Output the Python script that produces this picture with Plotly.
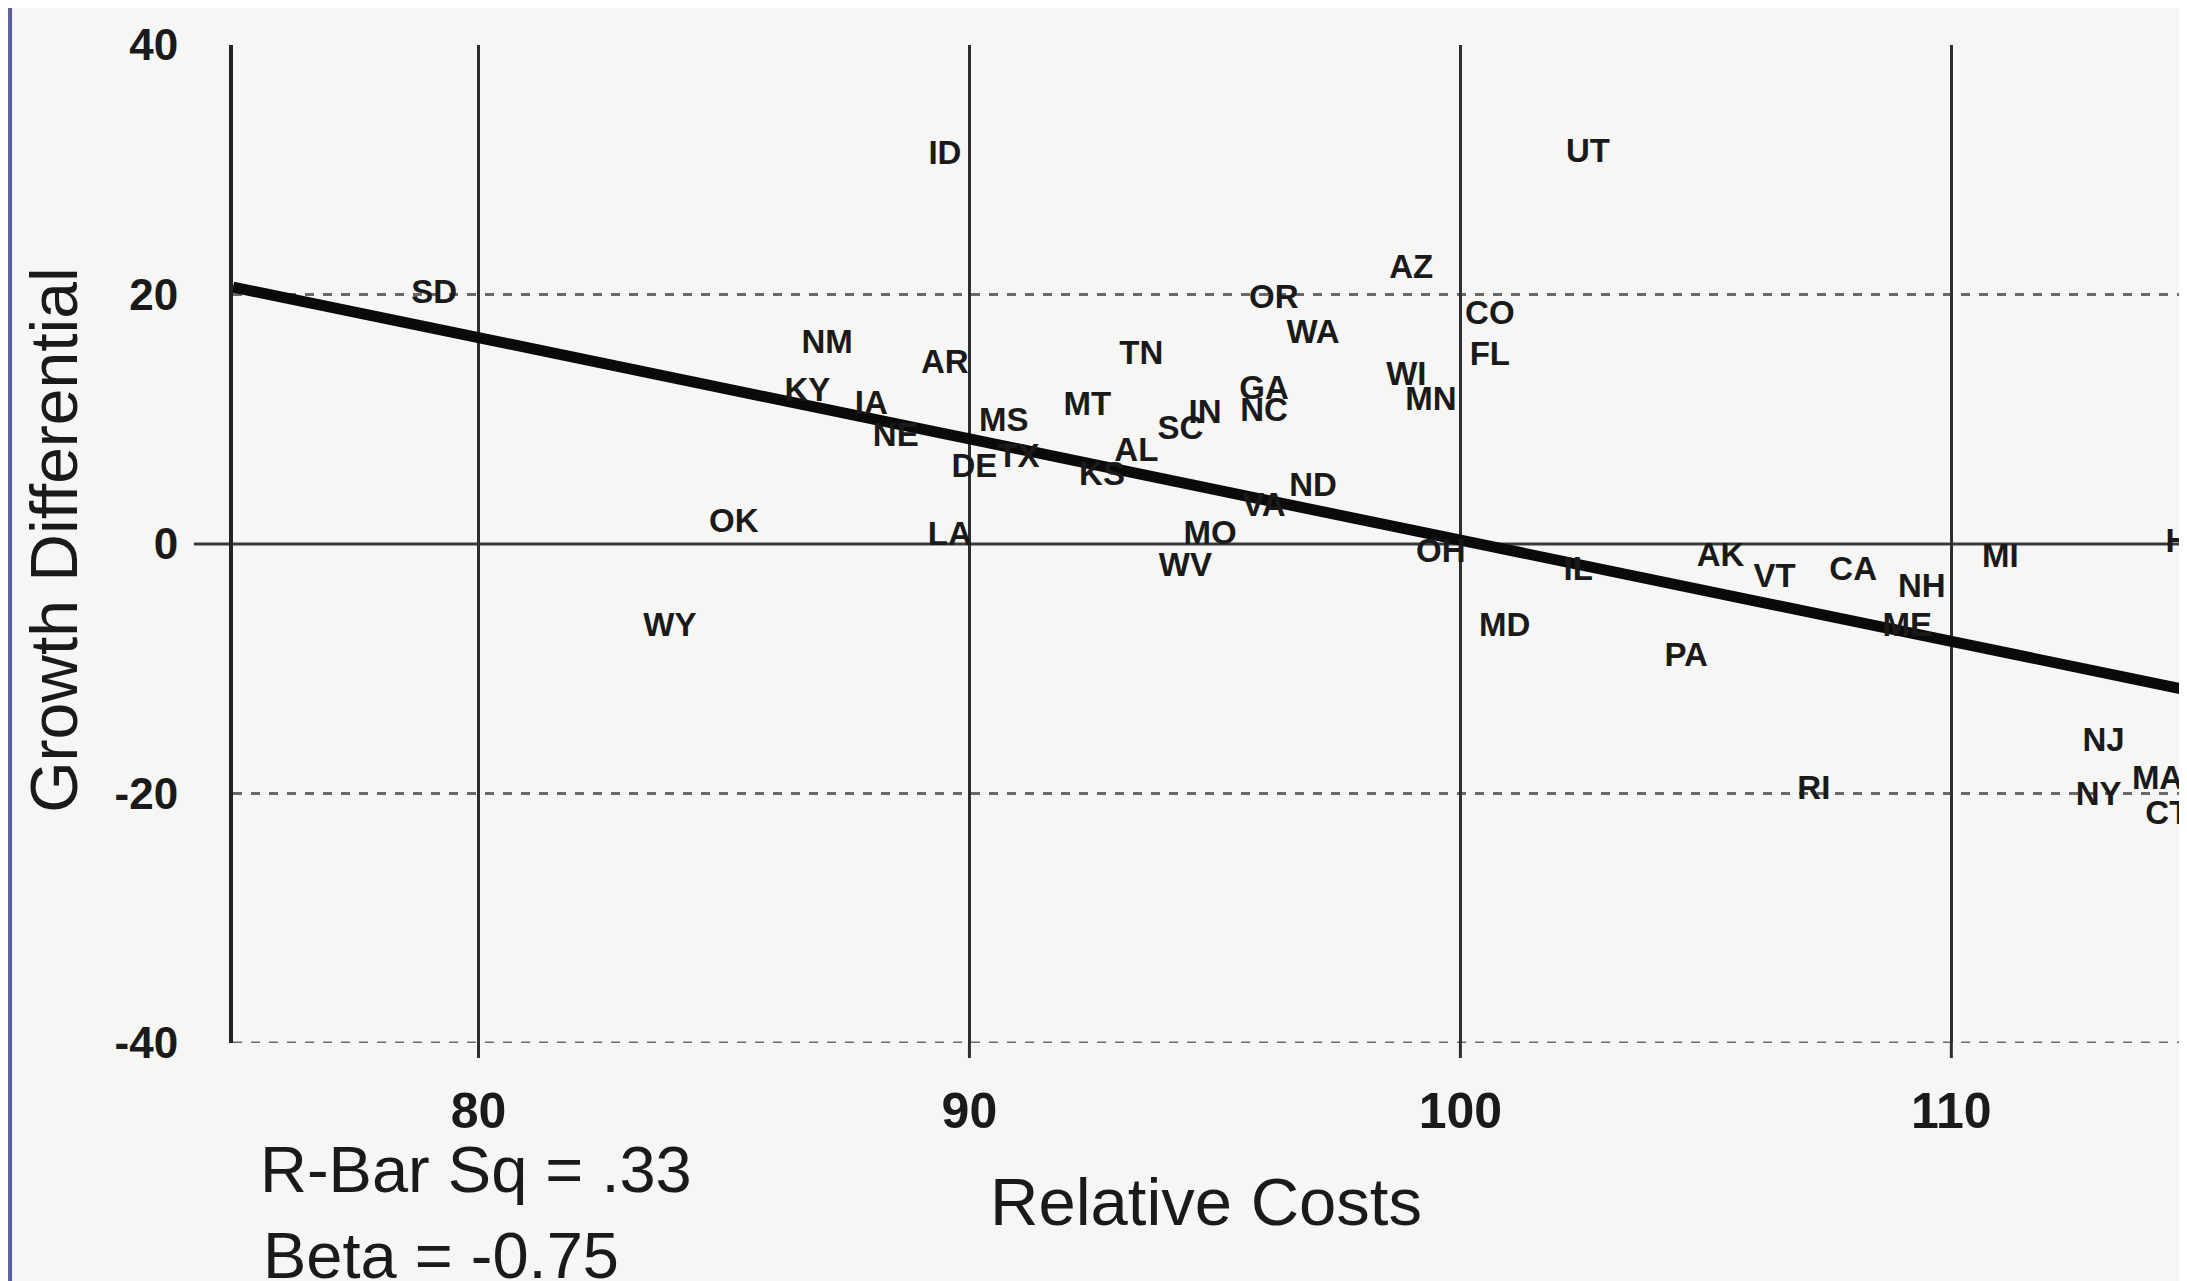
import plotly.graph_objects as go

# ---- data ----
states = ["ID", "UT", "AZ", "SD", "OR", "CO", "WA", "FL", "NM", "AR", "TN", "KY", "IA", "NE",
          "WI", "MN", "GA", "NC", "MT", "IN", "SC", "MS", "DE", "TX", "AL", "KS", "ND", "VA",
          "OK", "LA", "MO", "WV", "OH", "IL", "AK", "VT", "CA", "NH", "ME", "MI", "HI",
          "WY", "MD", "PA", "RI", "NJ", "NY", "MA", "CT"]
relative_costs = [89.5, 102.6, 99.0, 79.1, 96.2, 100.6, 97.0, 100.6, 87.1, 89.5, 93.5, 86.7, 88.0, 88.5,
                  98.9, 99.4, 96.0, 96.0, 92.4, 94.8, 94.3, 90.7, 90.1, 91.0, 93.4, 92.7, 97.0, 96.0,
                  85.2, 89.6, 94.9, 94.4, 99.6, 102.4, 105.3, 106.4, 108.0, 109.4, 109.1, 111.0, 114.7,
                  83.9, 100.9, 104.6, 107.2, 113.1, 113.0, 114.2, 114.4]
growth_diff = [31.1, 31.3, 22.0, 20.0, 19.6, 18.3, 16.8, 15.0, 16.0, 14.4, 15.1, 12.1, 11.1, 8.5,
               13.4, 11.4, 12.3, 10.5, 11.0, 10.4, 9.1, 9.7, 6.0, 6.8, 7.3, 5.4, 4.5, 2.9,
               1.6, 0.6, 0.7, -1.9, -0.8, -2.2, -1.1, -2.8, -2.2, -3.6, -6.7, -1.2, 0.0,
               -6.7, -6.7, -9.1, -19.8, -15.9, -20.3, -19.0, -21.8]

fit_x = [75.0, 114.8]
fit_y = [20.6, -11.7]

x_ticks = [80, 90, 100, 110]
y_ticks = [-40, -20, 0, 20, 40]
y_dashed = [20, -20, -40]
y_solid = [0]

FONT = "Liberation Sans, Arial, sans-serif"
INK = "#1a1a1a"

fig = go.Figure()

fig.add_trace(go.Scatter(
    x=fit_x, y=fit_y, mode="lines",
    line=dict(color="#0a0a0a", width=11),
    hoverinfo="skip", showlegend=False, cliponaxis=True,
))

fig.add_trace(go.Scatter(
    x=relative_costs, y=growth_diff, mode="text", text=states,
    textposition="middle center",
    textfont=dict(family=FONT, size=33, color=INK, weight="bold"),
    showlegend=False, cliponaxis=True,
))

shapes = []
for yv in y_dashed:
    shapes.append(dict(type="line", xref="paper", yref="y", x0=0, x1=1, y0=yv, y1=yv,
                       line=dict(color="#6a6a6a", width=3, dash="dash"), layer="below"))
for yv in y_solid:
    shapes.append(dict(type="line", xref="paper", yref="y", x0=-0.02, x1=1, y0=yv, y1=yv,
                       line=dict(color="#3a3a3a", width=3), layer="below"))
# vertical grid lines run a little below the bottom dashed line
for xv in x_ticks:
    shapes.append(dict(type="line", xref="x", yref="paper", x0=xv, x1=xv, y0=-0.015, y1=0,
                       line=dict(color="#2e2e2e", width=3), layer="below"))
# scanned page border at the far left
shapes.append(dict(type="line", xref="paper", yref="paper", x0=-0.1141, x1=-0.1141, y0=-0.26, y1=1.04,
                   line=dict(color="#5b5b9e", width=4)))

annotations = [
    dict(text="Growth Differential", xref="paper", yref="paper", x=-0.092, y=0.5035,
         textangle=-90, showarrow=False, xanchor="center", yanchor="middle",
         font=dict(family=FONT, size=66, color=INK)),
    dict(text="Relative Costs", xref="paper", yref="paper", x=0.498, y=-0.1585,
         showarrow=False, xanchor="center", yanchor="middle",
         font=dict(family=FONT, size=67, color=INK)),
    dict(text="R-Bar Sq = .33", xref="paper", yref="paper", x=0.0128, y=-0.1264,
         showarrow=False, xanchor="left", yanchor="middle",
         font=dict(family=FONT, size=65, color=INK)),
    dict(text="Beta = -0.75", xref="paper", yref="paper", x=0.0143, y=-0.2126,
         showarrow=False, xanchor="left", yanchor="middle",
         font=dict(family=FONT, size=65, color=INK)),
]

fig.update_layout(
    width=2187, height=1281,
    margin=dict(l=225, r=8, t=37, b=246),
    paper_bgcolor="#f6f6f4", plot_bgcolor="#f6f6f4",
    shapes=shapes, annotations=annotations,
    showlegend=False,
)
fig.update_xaxes(
    range=[75, 114.8], tickvals=x_ticks, ticktext=[str(v) for v in x_ticks],
    showgrid=True, gridcolor="#2e2e2e", gridwidth=3, zeroline=False, showline=False,
    ticks="", ticklabelstandoff=34,
    tickfont=dict(family=FONT, size=50, color=INK, weight="bold"),
)
fig.update_yaxes(
    range=[-40, 40], tickvals=y_ticks, ticktext=[str(v) for v in y_ticks],
    showgrid=False, zeroline=False, showline=True, linecolor="#222", linewidth=4,
    ticks="", ticklabelstandoff=42,
    tickfont=dict(family=FONT, size=44, color=INK, weight="bold"),
)

fig.write_html("out.html")
